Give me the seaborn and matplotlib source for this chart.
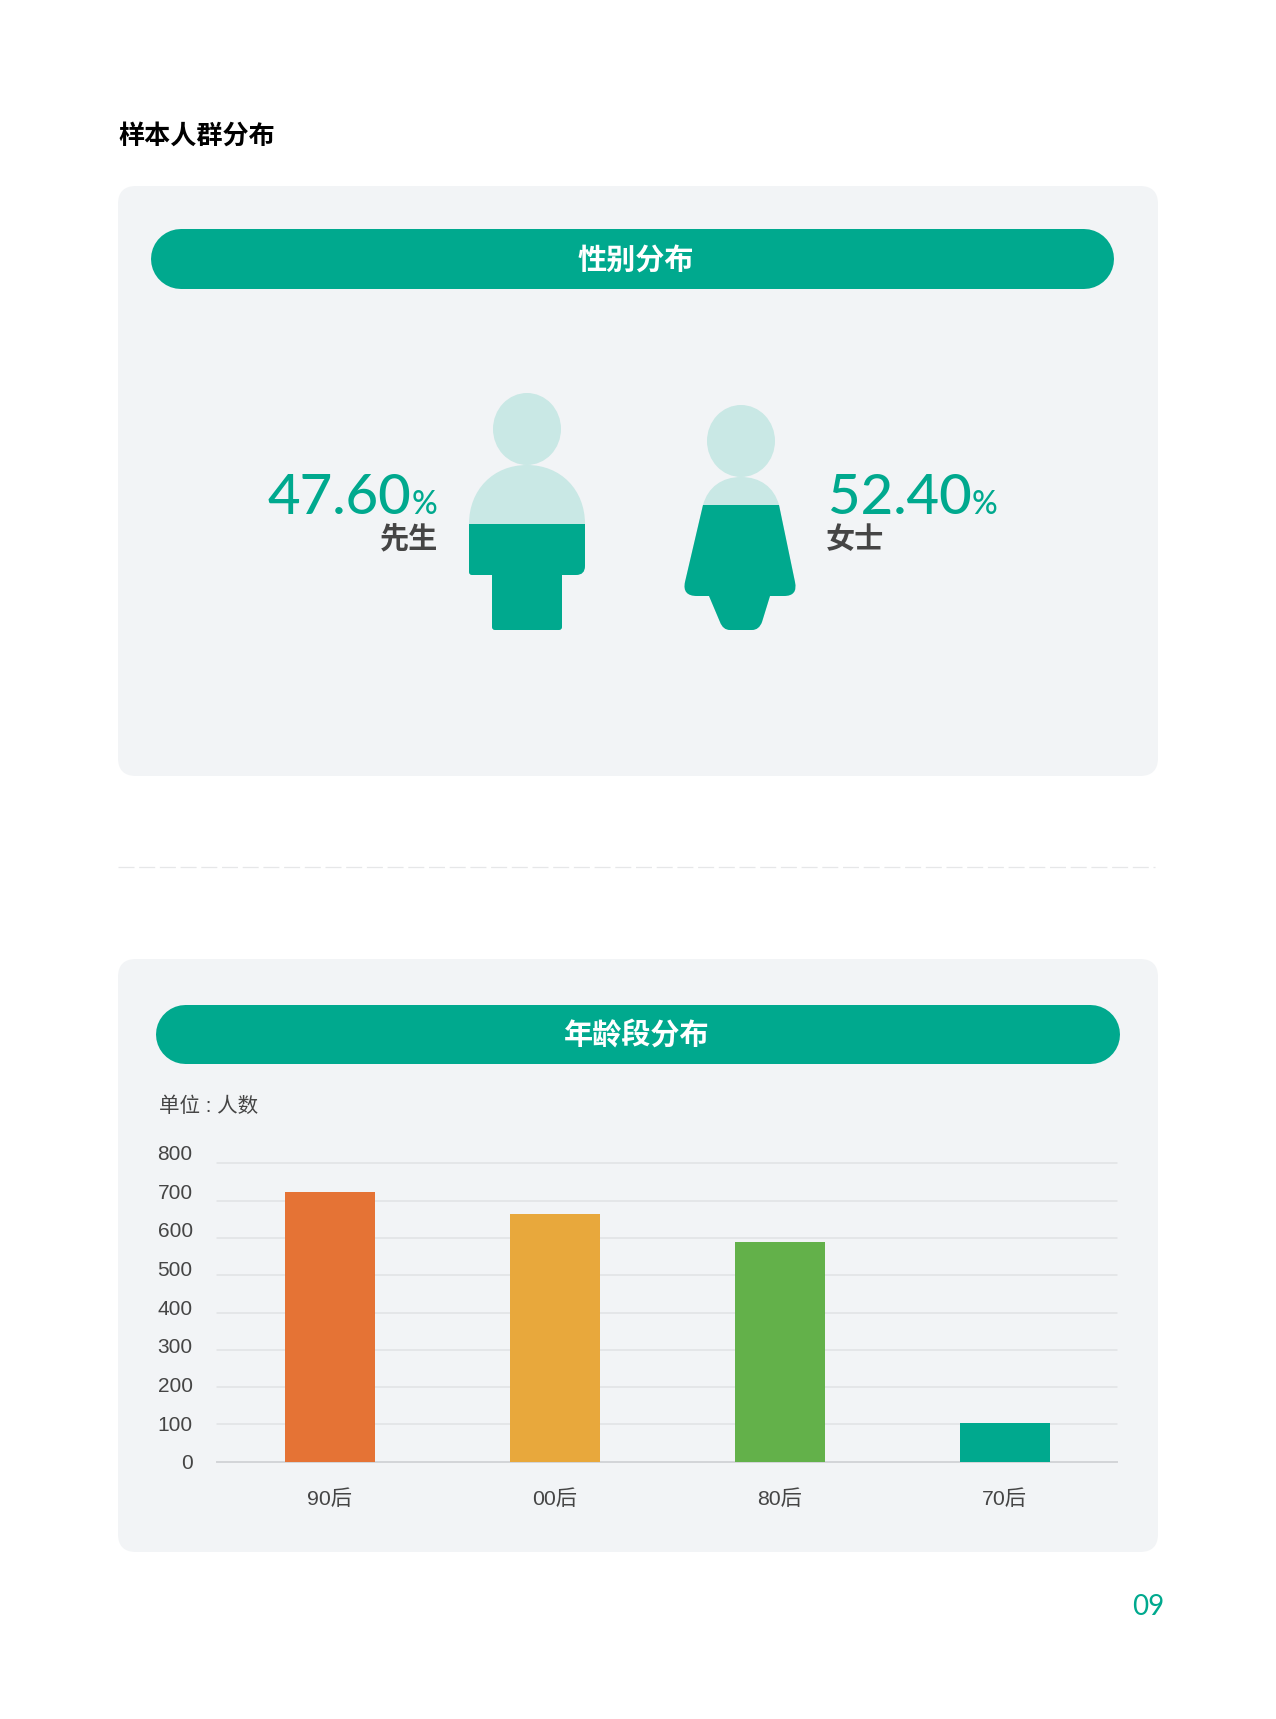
import numpy as np
import pandas as pd
import matplotlib
matplotlib.use('Agg')
import matplotlib.pyplot as plt
from matplotlib.patches import FancyBboxPatch, Ellipse, PathPatch, Rectangle
from matplotlib.path import Path
import seaborn as sns

# chart data
age_groups = ['90后', '00后', '80后', '70后']
age_counts = [722, 665, 588, 105]
age_colors = ['#E57335', '#E8A83C', '#63B14A', '#00A98E']
y_ticks = [0, 100, 200, 300, 400, 500, 600, 700, 800]

gender_labels = ['先生', '女士']
gender_values = ['47.60', '52.40']

TEAL = '#00A98E'
LIGHT = '#C9E8E5'
CARD = '#F2F4F6'
TEXT = '#454545'

sns.set_theme(style='white')
plt.rcParams['font.family'] = ['Liberation Sans', 'Noto Sans CJK SC']
CJK = ['Noto Sans CJK SC', 'DejaVu Sans']

W, H = 1276, 1719
fig = plt.figure(figsize=(W / 100, H / 100), dpi=100, facecolor='white')

# background layer, works in image pixels
bg = fig.add_axes([0, 0, 1, 1])
bg.set_xlim(0, W)
bg.set_ylim(H, 0)
bg.axis('off')


def round_box(x0, y0, x1, y1, r, color):
    bg.add_patch(FancyBboxPatch((x0 + r, y0 + r), x1 - x0 - 2 * r, y1 - y0 - 2 * r,
                                boxstyle=f'round,pad={r},rounding_size={r}',
                                fc=color, ec='none'))


def pill(x0, x1, y0, y1, color):
    # thick line with round caps gives true half circles at the ends
    h = y1 - y0
    bg.plot([x0 + h / 2, x1 - h / 2], [(y0 + y1) / 2] * 2, color=color,
            lw=h * 0.72, solid_capstyle='round')


round_box(118, 186, 1158, 776, 18, CARD)
round_box(118, 959, 1158, 1552, 18, CARD)
pill(151, 1114, 229, 289, TEAL)
pill(155, 1119, 1005, 1064, TEAL)

bg.plot([118, 1155], [867, 867], color='#E6E7E8', lw=0.9, dashes=(16 / 1.25, 4.7 / 1.25))

bg.text(118, 136, '样本人群分布', family=CJK, fontsize=18.8, fontweight='bold', color='black',
        ha='left', va='center')
bg.text(636, 260, '性别分布', family=CJK, fontsize=21, fontweight='bold', color='white',
        ha='center', va='center')
bg.text(637, 1035, '年龄段分布', family=CJK, fontsize=21, fontweight='bold', color='white',
        ha='center', va='center')
bg.text(159, 1106, '单位 : 人数', fontsize=14.8, color=TEXT, ha='left', va='center')
bg.text(1148, 1607, '09', family='Lato', fontsize=20, color=TEAL, ha='center', va='center')

# gender figures
man_body = Path(
    [(469, 524), (469, 490), (493, 465), (527, 465), (561, 465), (585, 490), (585, 524),
     (585, 566), (585, 575), (576, 575), (562, 575), (562, 627), (562, 630), (559, 630),
     (495, 630), (492, 630), (492, 627), (492, 575), (472, 575), (469, 575), (469, 572),
     (469, 524)],
    [Path.MOVETO, Path.CURVE4, Path.CURVE4, Path.CURVE4, Path.CURVE4, Path.CURVE4, Path.CURVE4,
     Path.LINETO, Path.CURVE3, Path.CURVE3, Path.LINETO, Path.LINETO, Path.CURVE3, Path.CURVE3,
     Path.LINETO, Path.CURVE3, Path.CURVE3, Path.LINETO, Path.LINETO, Path.CURVE3, Path.CURVE3,
     Path.CLOSEPOLY])
woman_body = Path(
    [(703, 505), (708, 487), (722, 477), (741, 477), (760, 477), (774, 487), (779, 505),
     (795, 582), (798, 596), (784, 596), (770, 596), (762, 622), (759, 630), (752, 630),
     (730, 630), (723, 630), (720, 622), (709, 596), (697, 596), (682, 596), (685, 582),
     (703, 505)],
    [Path.MOVETO, Path.CURVE4, Path.CURVE4, Path.CURVE4, Path.CURVE4, Path.CURVE4, Path.CURVE4,
     Path.LINETO, Path.CURVE3, Path.CURVE3, Path.LINETO, Path.LINETO, Path.CURVE3, Path.CURVE3,
     Path.LINETO, Path.CURVE3, Path.CURVE3, Path.LINETO, Path.LINETO, Path.CURVE3, Path.CURVE3,
     Path.CLOSEPOLY])

for body, head_x, head_y, level in [(man_body, 527, 429, 524), (woman_body, 741, 441, 505)]:
    bg.add_patch(Ellipse((head_x, head_y), 68, 72, fc=LIGHT, ec='none'))
    bg.add_patch(PathPatch(body, fc=LIGHT, ec='none'))
    filled = PathPatch(body, fc=TEAL, ec='none')
    bg.add_patch(filled)
    filled.set_clip_path(Rectangle((0, level), W, H - level, transform=bg.transData))

# percentages
num_font = dict(family='Lato', fontweight='medium', color=TEAL, va='baseline')
bg.text(411, 514, gender_values[0], fontsize=40.5, ha='right', **num_font)
bg.text(437.5, 514, '%', fontsize=23, ha='right', **num_font)
bg.text(972, 514, gender_values[1], fontsize=40.5, ha='right', **num_font)
bg.text(997.5, 514, '%', fontsize=23, ha='right', **num_font)
bg.text(438, 539, gender_labels[0], family=CJK, fontsize=21, fontweight='bold', color=TEXT,
        ha='right', va='center')
bg.text(826, 539, gender_labels[1], family=CJK, fontsize=21, fontweight='bold', color=TEXT,
        ha='left', va='center')

# age bars
ax = fig.add_axes([217 / W, 1 - 1461.7 / H, 900 / W, 298.4 / H])
ax.patch.set_alpha(0)
df = pd.DataFrame({'age': age_groups, 'count': age_counts})
sns.barplot(data=df, x='age', y='count', hue='age', palette=age_colors, width=0.4,
            saturation=1, dodge=False, legend=False, linewidth=0, ax=ax, zorder=3)
ax.set_xlim(-0.5, 3.5)
ax.set_ylim(0, 800)
ax.set_xlabel('')
ax.set_ylabel('')
ax.set_yticks(y_ticks)
ax.set_yticklabels([])
ax.grid(axis='y', color='#E1E3E5', lw=1.1, clip_on=False)
ax.grid(axis='x', visible=False)
ax.set_axisbelow(True)
sns.despine(ax=ax, left=True, top=True, right=True)
ax.spines['bottom'].set_color('#D3D5D8')
ax.spines['bottom'].set_linewidth(1.4)
ax.tick_params(axis='both', length=0)
ax.tick_params(axis='x', labelsize=15.3, labelcolor=TEXT, pad=20)

# the value labels sit on a slightly wider step than the gridlines, so they get their own axes
label_ax = fig.add_axes([217 / W, 1 - 1461.7 / H, 900 / W, 309 / H])
label_ax.patch.set_alpha(0)
label_ax.set_xticks([])
label_ax.set_ylim(0, 800)
label_ax.set_yticks(y_ticks)
label_ax.set_yticklabels([str(v) for v in y_ticks], fontsize=15, color=TEXT)
label_ax.tick_params(axis='y', length=0, pad=17.5)
label_ax.grid(False)
for s in label_ax.spines.values():
    s.set_visible(False)

fig.savefig('out.png', dpi=100, facecolor='white')
